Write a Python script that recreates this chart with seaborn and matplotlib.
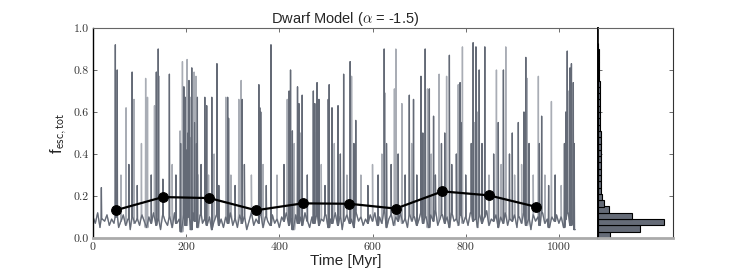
import numpy as np
import pandas as pd
import matplotlib
matplotlib.use("Agg")
import matplotlib.pyplot as plt
import seaborn as sns

# ---------------- data ----------------
base_step = 5  # Myr spacing of the baseline samples
baseline = [
    0.10,0.07,0.12,0.05,0.09,0.08,0.11,0.06,0.09,0.07,0.10,0.05,0.08,0.11,0.06,0.09,0.04,0.10,0.07,0.09,
    0.06,0.11,0.08,0.05,0.10,0.07,0.12,0.06,0.09,0.04,0.11,0.08,0.06,0.10,0.05,0.12,0.07,0.09,0.03,0.11,
    0.06,0.10,0.04,0.12,0.08,0.05,0.11,0.07,0.09,0.06,0.10,0.04,0.08,0.11,0.06,0.09,0.05,0.10,0.07,0.12,
    0.06,0.09,0.05,0.11,0.07,0.10,0.04,0.08,0.12,0.06,0.09,0.07,0.11,0.05,0.10,0.08,0.06,0.11,0.07,0.09,
    0.05,0.10,0.08,0.12,0.06,0.09,0.04,0.11,0.07,0.10,0.06,0.12,0.08,0.05,0.10,0.07,0.11,0.06,0.09,0.08,
    0.11,0.05,0.09,0.07,0.12,0.06,0.10,0.04,0.08,0.11,0.07,0.09,0.05,0.12,0.08,0.10,0.06,0.09,0.07,0.11,
    0.08,0.12,0.06,0.10,0.07,0.13,0.05,0.09,0.11,0.06,0.10,0.08,0.12,0.07,0.09,0.05,0.11,0.08,0.10,0.06,
    0.09,0.12,0.07,0.10,0.05,0.11,0.08,0.13,0.06,0.09,0.11,0.07,0.10,0.05,0.12,0.08,0.09,0.06,0.11,0.07,
    0.10,0.06,0.12,0.08,0.09,0.05,0.11,0.07,0.10,0.13,0.06,0.09,0.08,0.11,0.05,0.10,0.07,0.12,0.06,0.09,
    0.08,0.11,0.05,0.10,0.07,0.12,0.06,0.09,0.04,0.11,0.08,0.10,0.06,0.12,0.07,0.09,0.05,0.10,0.08,0.11,
    0.07,0.10,0.05,0.09,0.12,0.06,0.08,0.04,
]

# bursts: time [Myr], peak f_esc, drawn dark (1) or light (0)
spike_t = [18, 48, 52, 60, 71, 77, 84, 88, 95, 104, 113, 117, 125, 132, 136, 140, 142, 150, 164, 170, 178,
           187, 188, 190, 192, 195, 196, 198, 200, 202, 203, 206, 207, 209, 211, 212, 214, 217, 218, 221, 222,
           224, 226, 232, 240, 244, 248, 255, 260, 266, 270, 285, 289, 291, 296, 305, 313, 318, 320, 325, 340,
           356, 358, 360, 365, 372, 382, 395, 410, 417, 421, 424, 428, 432, 439, 442, 445, 449, 460, 473, 476,
           478, 481, 485, 490, 498, 505, 507, 513, 518, 526, 531, 538, 545, 552, 555, 560, 564, 575, 590, 600,
           612, 620, 625, 627, 630, 640, 647, 650, 655, 663, 670, 679, 684, 688, 695, 704, 708, 713, 718, 722,
           726, 731, 735, 743, 748, 755, 759, 765, 770, 780, 784, 788, 790, 793, 800, 812, 816, 818, 822, 826,
           829, 835, 841, 850, 860, 866, 870, 876, 881, 886, 894, 900, 905, 913, 920, 925, 929, 932, 936, 945,
           956, 958, 963, 970, 978, 984, 992, 1005, 1012, 1015, 1018, 1020, 1024, 1025, 1027, 1029, 1031, 1033]
spike_v = [0.24, 0.92, 0.80, 0.30, 0.62, 0.35, 0.79, 0.66, 0.25, 0.45, 0.76, 0.67, 0.30, 0.63, 0.79, 0.90, 0.77,
           0.28, 0.78, 0.35, 0.30,
           0.51, 0.45, 0.38, 0.84, 0.72, 0.55, 0.67, 0.42, 0.85, 0.50, 0.75, 0.35, 0.67, 0.48, 0.81, 0.40,
           0.79, 0.55, 0.77, 0.45, 0.67, 0.30, 0.35, 0.67, 0.63, 0.30, 0.67, 0.40, 0.83, 0.25, 0.67, 0.67,
           0.57, 0.30, 0.25, 0.66, 0.75, 0.66, 0.35, 0.30,
           0.73, 0.62, 0.60, 0.35, 0.25, 0.92, 0.30, 0.35, 0.66, 0.70, 0.80, 0.51, 0.45, 0.72, 0.64, 0.50,
           0.68, 0.30, 0.70, 0.64, 0.50, 0.74, 0.66, 0.35, 0.25, 0.66, 0.73, 0.62, 0.45, 0.63, 0.40, 0.78,
           0.30, 0.84, 0.77, 0.45, 0.56, 0.30, 0.25, 0.35,
           0.30, 0.40, 0.90, 0.69, 0.45, 0.35, 0.71, 0.90, 0.40, 0.64, 0.30, 0.68, 0.45, 0.66, 0.30, 0.77,
           0.50, 0.90, 0.71, 0.71, 0.40, 0.58, 0.30, 0.78, 0.45, 0.50, 0.77, 0.87, 0.35, 0.40, 0.73, 0.74,
           0.55, 0.91, 0.30, 0.45, 0.93, 0.55, 0.91, 0.60, 0.80, 0.45, 0.91, 0.30, 0.40, 0.80, 0.55, 0.35,
           0.80, 0.91, 0.40, 0.50, 0.30, 0.55, 0.35, 0.60, 0.86, 0.76, 0.45, 0.30,
           0.77, 0.45, 0.58, 0.30, 0.25, 0.65, 0.30, 0.25, 0.45, 0.60, 0.89, 0.70, 0.81, 0.50, 0.83, 0.60,
           0.74, 0.45]
spike_dark = [1, 1, 1, 0, 0, 1, 1, 0, 1, 0, 0, 0, 1, 0, 1, 1, 0, 1, 1, 0, 1,
              0, 1, 0, 0, 1, 0, 1, 1, 0, 1, 1, 0, 0, 1, 1, 0, 0, 1, 0, 1,
              1, 0, 1, 1, 1, 0, 1, 0, 1, 1, 0, 1, 1, 0, 1, 0, 0, 1, 1, 0,
              1, 1, 1, 0, 1, 1, 0, 1, 0, 1, 1, 1, 0, 1, 1, 0, 1, 1, 1, 1,
              0, 1, 1, 0, 1, 1, 1, 1, 0, 1, 1, 1, 0, 1, 0, 1, 1, 0, 1, 0,
              1, 0, 1, 0, 1, 1, 0, 0, 1, 0, 1, 1, 0, 1, 1, 1, 1, 1, 0, 1,
              0, 1, 1, 0, 1, 1, 0, 1, 1, 1, 0, 1, 1, 0, 1, 1, 1, 0, 1, 0,
              1, 1, 1, 0, 1, 0, 1, 0, 1, 0, 1, 1, 0, 1, 0, 1, 1, 0, 1, 0,
              0, 1, 1, 0, 1, 0, 1, 0, 1, 1, 1, 0, 1, 0, 1, 0, 1, 1]

# 100-Myr averages
mean_t = [50, 150, 250, 350, 450, 550, 650, 750, 850, 950]
mean_v = [0.133, 0.195, 0.190, 0.132, 0.165, 0.163, 0.140, 0.222, 0.203, 0.149]

# histogram of f_esc (bin width 0.03)
hist_edges = [round(0.03 * i, 2) for i in range(32)]
hist_counts = [60, 210, 330, 170, 55, 28, 20, 17, 16, 16, 15, 15, 15, 14, 14, 14,
               13, 12, 12, 11, 11, 10, 9, 8, 8, 7, 6, 5, 4, 3, 2]

# ---------------- build the time series ----------------
def build_series(include):
    ts = [i * base_step for i in range(len(baseline))]
    vs = list(baseline)
    for t, v, d in zip(spike_t, spike_v, spike_dark):
        if not include(d):
            continue
        foot = baseline[min(int(round(t / base_step)), len(baseline) - 1)]
        ts += [t - 0.6, t, t + 0.6]
        vs += [foot, v, foot]
    df = pd.DataFrame({"t": ts, "f": vs}).sort_values("t", kind="stable").reset_index(drop=True)
    return df

df_all = build_series(lambda d: True)
df_dark = build_series(lambda d: d == 1)
df_mean = pd.DataFrame({"t": mean_t, "f": mean_v})
hist_centers = [(a + b) / 2 for a, b in zip(hist_edges[:-1], hist_edges[1:])]

# ---------------- figure ----------------
sns.set_theme(style="white")
plt.rcParams["font.family"] = ["Liberation Sans", "DejaVu Sans"]
plt.rcParams["mathtext.fontset"] = "cm"
plt.rcParams["xtick.direction"] = "in"
plt.rcParams["ytick.direction"] = "in"

W, H = 747, 280
fig = plt.figure(figsize=(W / 100, H / 100), dpi=100)
ax = fig.add_axes([93 / W, 1 - 238 / H, (598 - 93) / W, (238 - 28) / H])
axh = fig.add_axes([598 / W, 1 - 238 / H, (673 - 598) / W, (238 - 28) / H])

light_col = "#a9adb5"
dark_col = "#646a76"

sns.lineplot(data=df_all, x="t", y="f", ax=ax, color=light_col, lw=1.0,
             estimator=None, sort=False)
sns.lineplot(data=df_dark, x="t", y="f", ax=ax, color=dark_col, lw=0.85,
             estimator=None, sort=False)
sns.lineplot(data=df_mean, x="t", y="f", ax=ax, color="black", lw=1.6,
             marker="o", markersize=7, markeredgecolor="black", estimator=None, zorder=5)

ax.set_xlim(0, 1084)
ax.set_ylim(0, 1.0)
ax.set_xticks([0, 200, 400, 600, 800, 1000])
ax.set_xticklabels(["0", "200", "400", "600", "800", "1000"])
ax.set_yticks([0.0, 0.2, 0.4, 0.6, 0.8, 1.0])
ax.set_yticklabels(["0.0", "0.2", "0.4", "0.6", "0.8", "1.0"])
for lbl in ax.get_xticklabels() + ax.get_yticklabels():
    lbl.set_fontfamily("cmr10")
    lbl.set_fontsize(8.5)
    lbl.set_color("#333333")
ax.tick_params(axis="both", which="both", direction="in", length=3, width=0.6,
               color="#555555", top=True, bottom=True, left=True, right=False, pad=3)
ax.set_xlabel("Time [Myr]", fontsize=11, labelpad=2)
ax.set_ylabel(r"f$_{\mathsf{esc,tot}}$", fontsize=12, labelpad=3)
ax.set_title(r"Dwarf Model ($\alpha$ = -1.5)", fontsize=10.5, pad=3)

ax.spines["left"].set_color("black"); ax.spines["left"].set_linewidth(1.0)
ax.spines["top"].set_color("#666666"); ax.spines["top"].set_linewidth(0.8)
ax.spines["bottom"].set_color("#aaaaaa"); ax.spines["bottom"].set_linewidth(2.0)
ax.spines["right"].set_color("black"); ax.spines["right"].set_linewidth(1.2)

sns.histplot(y=hist_centers, weights=hist_counts, bins=hist_edges, ax=axh,
             color="#656b77", edgecolor="black", linewidth=0.8, alpha=1.0)
axh.set_ylim(0, 1.0)
axh.set_xlim(0, 375)
axh.set_xlabel(""); axh.set_ylabel("")
axh.set_xticks([])
axh.set_yticks([0.0, 0.2, 0.4, 0.6, 0.8, 1.0])
axh.set_yticklabels([])
axh.tick_params(axis="y", direction="in", length=3, width=0.6, color="#555555",
                left=True, right=True)
axh.spines["left"].set_color("black"); axh.spines["left"].set_linewidth(1.2)
axh.spines["top"].set_color("#666666"); axh.spines["top"].set_linewidth(0.8)
axh.spines["bottom"].set_color("#aaaaaa"); axh.spines["bottom"].set_linewidth(2.0)
axh.spines["right"].set_color("#333333"); axh.spines["right"].set_linewidth(0.8)

fig.savefig("out.png", dpi=100)
